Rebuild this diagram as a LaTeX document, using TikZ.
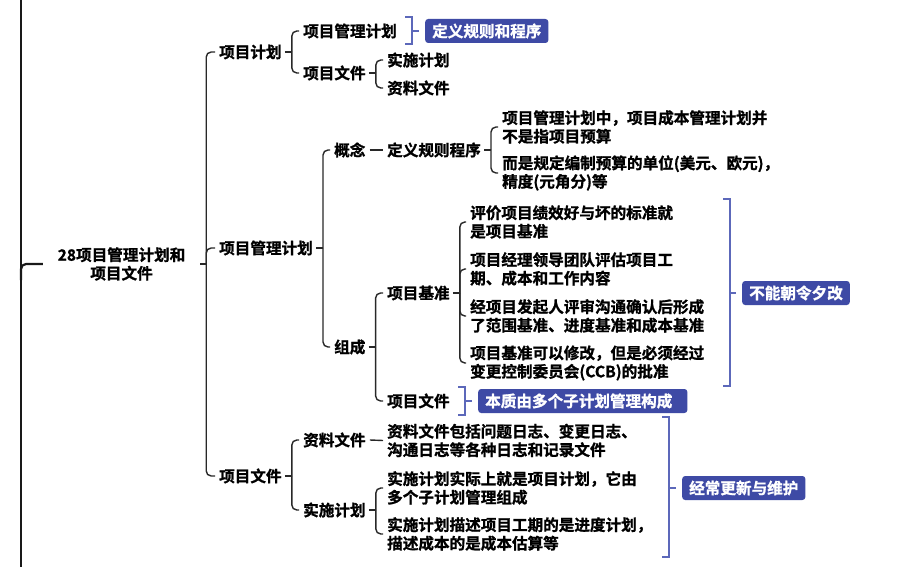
\documentclass[tikz,border=0pt]{standalone}
\usepackage{fontspec}
\setmainfont{Noto Sans CJK SC}[BoldFont={Noto Sans CJK SC Bold},BoldFeatures={FakeBold=1.2}]
\definecolor{boxblue}{RGB}{62,74,165}
\definecolor{sumblue}{RGB}{92,104,186}
\definecolor{lineclr}{RGB}{40,40,40}
\newcommand\mmfont{\bfseries\fontsize{15.6}{18.5}\selectfont}
\begin{document}
\begin{tikzpicture}[x=1pt,y=-1pt,
  every node/.style={inner sep=0pt,anchor=west,font=\mmfont,text=black,align=left},
  conn/.style={draw=lineclr,line width=1.4pt},
  trunk/.style={draw=black!90,line width=2.2pt},
  sumline/.style={draw=sumblue,line width=1.3pt},
  sumbox/.style={fill=boxblue,text=white,rounded corners=3pt,inner xsep=7pt,inner ysep=0pt,minimum height=24pt,anchor=west}]
\useasboundingbox (0,0) rectangle (916,567);
\fill[white] (0,0) rectangle (916,567);

% nodes
\node[anchor=center,align=center,minimum width=157pt] (root) at (121.5,264) {28项目管理计划和\\项目文件};
\node (n1) at (219,52) {项目计划};
\node (n2) at (219,248) {项目管理计划};
\node (n3) at (219,476) {项目文件};

\node (n11) at (303,31) {项目管理计划};
\node (n12) at (303,73) {项目文件};
\node (n121) at (387,60) {实施计划};
\node (n122) at (387,88) {资料文件};
\node[sumbox] (S1) at (425,31) {定义规则和程序};

\node (n21) at (334,150) {概念};
\node (n22) at (334,347) {组成};
\node (n211) at (387,150) {定义规则程序};
\node (n2111) at (502,127) {项目管理计划中，项目成本管理计划并\\不是指项目预算};
\node (n2112) at (502,173) {而是规定编制预算的单位(美元、欧元)，\\精度(元角分)等};
\node (n221) at (387,293) {项目基准};
\node (n222) at (387,401) {项目文件};
\node (n2211) at (470,222) {评价项目绩效好与坏的标准就\\是项目基准};
\node (n2212) at (470,269) {项目经理领导团队评估项目工\\期、成本和工作内容};
\node (n2213) at (470,316) {经项目发起人评审沟通确认后形成\\了范围基准、进度基准和成本基准};
\node (n2214) at (470,363) {项目基准可以修改，但是必须经过\\变更控制委员会(CCB)的批准};
\node[sumbox] (S2) at (742,293) {不能朝令夕改};
\node[sumbox] (S3) at (478,401) {本质由多个子计划管理构成\hspace{8pt}};

\node (n31) at (303,440) {资料文件};
\node (n32) at (303,510) {实施计划};
\node (n311) at (387,440.5) {资料文件包括问题日志、变更日志、\\沟通日志等各种日志和记录文件};
\node (n321) at (387,488) {实施计划实际上就是项目计划，它由\\多个子计划管理组成};
\node (n322) at (387,534) {实施计划描述项目工期的是进度计划，\\描述成本的是成本估算等};
\node[sumbox] (S4) at (682,488) {经常更新与维护};

% trunk on the left
\coordinate (L0) at (21,0);
\coordinate (L1) at (21,567);
\coordinate (Lj) at (21,280);
\draw[trunk] (L0) -- (L1);
\draw[trunk,rounded corners=5pt] (Lj) |- (root.west);

% root fork
\coordinate (b0) at ([xshift=6pt]root.east);
\draw[conn] (root.east) -- (b0);
\foreach \c in {n1,n2,n3} \draw[conn,rounded corners=5pt] (b0) |- ([xshift=-4pt]\c.west);

% generic forks
\newcommand\mmfork[3]{%
  \coordinate (#2) at ([xshift=10pt]#1.east);
  \draw[conn] ([xshift=3pt]#1.east) -- (#2);
  \foreach \c in {#3} \draw[conn,rounded corners=5pt] (#2) |- ([xshift=-4pt]\c.west);
}
\mmfork{n1}{b1}{n11,n12}
\mmfork{n12}{b12}{n121,n122}
\mmfork{n2}{b2}{n21,n22}
\mmfork{n211}{b211}{n2111,n2112}
\mmfork{n22}{b22}{n221,n222}
\mmfork{n221}{b221}{n2211,n2212,n2213,n2214}
\mmfork{n3}{b3}{n31,n32}
\mmfork{n32}{b32}{n321,n322}

% single links
\draw[conn] ([xshift=4pt]n21.east) -- ([xshift=-4pt]n211.west);
\draw[conn] ([xshift=4pt]n31.east) -- ([xshift=-4pt]n311.west);

% summary brackets
\coordinate (s1t) at (405,17);  \coordinate (s1b) at (405,44);
\coordinate (s2t) at (723,199); \coordinate (s2b) at (723,386);
\coordinate (s3t) at (458,387); \coordinate (s3b) at (458,415);
\coordinate (s4t) at (662,417); \coordinate (s4b) at (662,557);
\foreach \t/\b/\s in {s1t/s1b/S1,s2t/s2b/S2,s3t/s3b/S3,s4t/s4b/S4}{
  \draw[sumline] (\t) -| ([xshift=7pt]\b) -- (\b);
  \draw[sumline] ([xshift=-13pt]\s.west) -- ([xshift=-6pt]\s.west);
}
\end{tikzpicture}
\end{document}
